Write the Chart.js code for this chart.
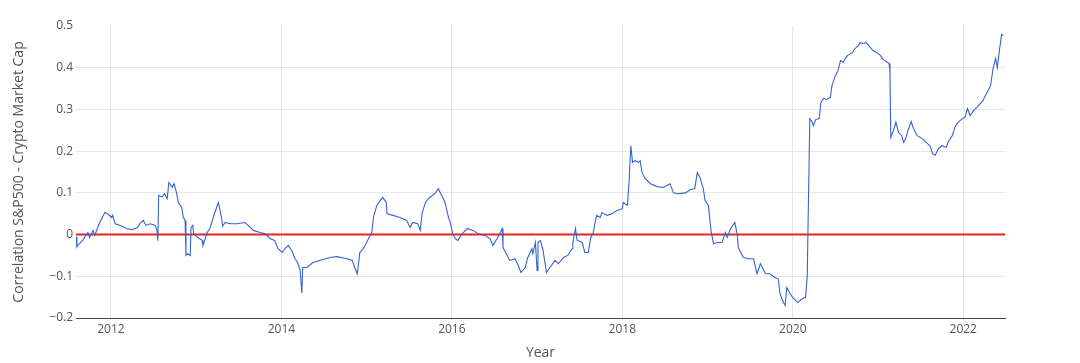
<!DOCTYPE html>
<html>
<head>
<meta charset="utf-8">
<script src="https://cdn.jsdelivr.net/npm/chart.js@4/dist/chart.umd.min.js"></script>
<style>
  html, body { margin: 0; padding: 0; background: #fff; }
  #wrap { width: 1080px; height: 363px; position: relative; }
</style>
</head>
<body>
<div id="wrap"><canvas id="chartCorr"></canvas></div>
<script>
const years = [
  2011.59, 2011.60, 2011.61, 2011.67, 2011.73, 2011.75, 2011.79, 2011.81, 2011.85, 2011.89,
  2011.93, 2011.96, 2012.01, 2012.02, 2012.05, 2012.11, 2012.19, 2012.25, 2012.31, 2012.34,
  2012.38, 2012.41, 2012.46, 2012.52, 2012.54, 2012.55, 2012.56, 2012.60, 2012.63, 2012.66,
  2012.68, 2012.72, 2012.74, 2012.77, 2012.79, 2012.83, 2012.85, 2012.87, 2012.88, 2012.90,
  2012.93, 2012.94, 2012.96, 2012.97, 2013.02, 2013.07, 2013.08, 2013.13, 2013.16, 2013.20,
  2013.24, 2013.26, 2013.28, 2013.30, 2013.31, 2013.34, 2013.40, 2013.48, 2013.57, 2013.61,
  2013.67, 2013.75, 2013.81, 2013.87, 2013.92, 2013.96, 2014.01, 2014.04, 2014.08, 2014.12,
  2014.16, 2014.19, 2014.22, 2014.24, 2014.25, 2014.30, 2014.37, 2014.45, 2014.57, 2014.65,
  2014.77, 2014.83, 2014.86, 2014.89, 2014.90, 2014.92, 2014.96, 2015.00, 2015.04, 2015.06,
  2015.08, 2015.12, 2015.16, 2015.19, 2015.23, 2015.24, 2015.31, 2015.39, 2015.47, 2015.51,
  2015.54, 2015.60, 2015.63, 2015.65, 2015.69, 2015.74, 2015.80, 2015.84, 2015.88, 2015.92,
  2015.96, 2015.98, 2016.01, 2016.04, 2016.07, 2016.12, 2016.18, 2016.25, 2016.31, 2016.39,
  2016.45, 2016.48, 2016.53, 2016.59, 2016.60, 2016.65, 2016.68, 2016.74, 2016.78, 2016.81,
  2016.86, 2016.89, 2016.94, 2016.95, 2016.98, 2017.00, 2017.01, 2017.04, 2017.07, 2017.11,
  2017.15, 2017.21, 2017.25, 2017.31, 2017.36, 2017.41, 2017.42, 2017.45, 2017.47, 2017.53,
  2017.56, 2017.60, 2017.63, 2017.66, 2017.68, 2017.70, 2017.74, 2017.76, 2017.82, 2017.88,
  2017.94, 2018.00, 2018.01, 2018.06, 2018.08, 2018.10, 2018.12, 2018.15, 2018.19, 2018.21,
  2018.23, 2018.27, 2018.33, 2018.41, 2018.48, 2018.56, 2018.60, 2018.65, 2018.74, 2018.80,
  2018.85, 2018.88, 2018.91, 2018.95, 2018.97, 2019.01, 2019.04, 2019.07, 2019.11, 2019.17,
  2019.21, 2019.23, 2019.27, 2019.32, 2019.35, 2019.36, 2019.42, 2019.48, 2019.54, 2019.58,
  2019.62, 2019.68, 2019.73, 2019.79, 2019.83, 2019.85, 2019.89, 2019.91, 2019.93, 2019.97,
  2020.00, 2020.06, 2020.11, 2020.15, 2020.17, 2020.18, 2020.20, 2020.23, 2020.24, 2020.27,
  2020.31, 2020.33, 2020.36, 2020.40, 2020.44, 2020.46, 2020.50, 2020.53, 2020.56, 2020.59,
  2020.64, 2020.70, 2020.73, 2020.77, 2020.79, 2020.83, 2020.86, 2020.90, 2020.94, 2020.99,
  2021.03, 2021.06, 2021.11, 2021.13, 2021.14, 2021.15, 2021.18, 2021.21, 2021.24, 2021.28,
  2021.30, 2021.33, 2021.35, 2021.39, 2021.41, 2021.46, 2021.52, 2021.58, 2021.61, 2021.64,
  2021.67, 2021.71, 2021.75, 2021.80, 2021.82, 2021.87, 2021.91, 2021.94, 2021.99, 2022.02,
  2022.05, 2022.08, 2022.12, 2022.16, 2022.20, 2022.23, 2022.28, 2022.32, 2022.35, 2022.38,
  2022.40, 2022.42, 2022.45, 2022.47
];
const corr = [
  -0.005, -0.030, -0.026, -0.014, 0.005, -0.007, 0.010, -0.002, 0.020, 0.038,
  0.053, 0.050, 0.041, 0.046, 0.026, 0.022, 0.014, 0.012, 0.017, 0.026,
  0.034, 0.022, 0.026, 0.022, 0.010, -0.015, 0.094, 0.090, 0.098, 0.086,
  0.125, 0.113, 0.122, 0.100, 0.077, 0.065, 0.041, 0.034, -0.050, -0.046,
  -0.050, 0.017, 0.022, 0.002, -0.007, -0.014, -0.026, 0.005, 0.014, 0.041,
  0.065, 0.077, 0.058, 0.038, 0.020, 0.029, 0.026, 0.026, 0.029, 0.022,
  0.010, 0.005, 0.002, -0.010, -0.014, -0.034, -0.043, -0.034, -0.026, -0.038,
  -0.058, -0.067, -0.086, -0.140, -0.079, -0.079, -0.067, -0.062, -0.055, -0.053,
  -0.058, -0.062, -0.079, -0.094, -0.079, -0.043, -0.034, -0.019, -0.002, 0.005,
  0.041, 0.070, 0.082, 0.089, 0.077, 0.050, 0.046, 0.041, 0.034, 0.017,
  0.029, 0.026, 0.010, 0.050, 0.077, 0.089, 0.098, 0.110, 0.094, 0.077,
  0.041, 0.029, 0.002, -0.010, -0.014, 0.002, 0.014, 0.010, 0.002, -0.002,
  -0.010, -0.026, -0.010, 0.014, -0.031, -0.050, -0.062, -0.058, -0.074, -0.091,
  -0.079, -0.055, -0.034, -0.046, -0.019, -0.086, -0.019, -0.014, -0.038, -0.091,
  -0.079, -0.062, -0.070, -0.055, -0.050, -0.034, -0.019, 0.014, -0.014, -0.019,
  -0.043, -0.043, -0.007, 0.005, 0.029, 0.046, 0.041, 0.053, 0.046, 0.050,
  0.058, 0.062, 0.077, 0.070, 0.130, 0.213, 0.173, 0.177, 0.173, 0.177,
  0.149, 0.134, 0.122, 0.115, 0.113, 0.122, 0.100, 0.098, 0.100, 0.108,
  0.110, 0.149, 0.137, 0.110, 0.082, 0.070, 0.010, -0.022, -0.019, -0.019,
  0.005, -0.007, 0.014, 0.029, -0.002, -0.031, -0.055, -0.058, -0.058, -0.094,
  -0.070, -0.094, -0.094, -0.103, -0.106, -0.142, -0.163, -0.170, -0.127, -0.142,
  -0.151, -0.163, -0.154, -0.151, -0.098, 0.034, 0.278, 0.269, 0.261, 0.276,
  0.278, 0.317, 0.326, 0.324, 0.329, 0.357, 0.381, 0.393, 0.417, 0.413,
  0.429, 0.436, 0.446, 0.453, 0.460, 0.458, 0.460, 0.451, 0.441, 0.436,
  0.429, 0.420, 0.413, 0.410, 0.389, 0.233, 0.249, 0.269, 0.245, 0.237,
  0.221, 0.233, 0.249, 0.271, 0.257, 0.237, 0.230, 0.218, 0.213, 0.194,
  0.190, 0.206, 0.213, 0.209, 0.221, 0.237, 0.261, 0.269, 0.278, 0.281,
  0.302, 0.285, 0.297, 0.305, 0.314, 0.321, 0.341, 0.357, 0.398, 0.422,
  0.400, 0.434, 0.480, 0.477
];
// zero reference line spans the whole x range
const zeroX = [2011.59, 2022.49];
const zeroY = [0, 0];
const xTicks = [2012, 2014, 2016, 2018, 2020, 2022];
const yTicks = [-0.2, -0.1, 0, 0.1, 0.2, 0.3, 0.4, 0.5];

const FONT = '"Open Sans", "Noto Sans", sans-serif';

const ctx = document.getElementById('chartCorr').getContext('2d');
new Chart(ctx, {
  type: 'line',
  data: {
    datasets: [
      {
        label: 'zero',
        data: zeroX.map((x, i) => ({ x, y: zeroY[i] })),
        borderColor: '#e8231f',
        borderWidth: 2,
        pointRadius: 0,
        order: 2
      },
      {
        label: 'corr',
        data: years.map((x, i) => ({ x, y: corr[i] })),
        borderColor: '#3563d1',
        borderWidth: 1.1,
        pointRadius: 0,
        tension: 0,
        order: 1
      }
    ]
  },
  options: {
    responsive: true,
    maintainAspectRatio: false,
    animation: false,
    layout: { padding: { top: 26, right: 75, bottom: 0, left: 0 } },
    plugins: {
      legend: { display: false },
      tooltip: { enabled: false }
    },
    scales: {
      x: {
        type: 'linear',
        min: zeroX[0],
        max: zeroX[1],
        afterBuildTicks: s => { s.ticks = xTicks.map(v => ({ value: v })); },
        afterFit: s => { s.height = 45; },
        grid: { color: '#e6e6e6', drawTicks: false },
        border: { display: true, color: '#444', width: 1 },
        ticks: {
          padding: 4,
          color: '#555',
          font: { family: FONT, size: 12 },
          callback: v => String(v)
        },
        title: {
          display: true,
          text: 'Year',
          color: '#555',
          font: { family: FONT, size: 14 },
          padding: { top: 0, bottom: 2 }
        }
      },
      y: {
        min: -0.2,
        max: 0.5,
        afterBuildTicks: s => { s.ticks = yTicks.map(v => ({ value: v })); },
        afterFit: s => { s.width = 76; },
        grid: {
          drawTicks: false,
          color: c => (c.tick && (c.tick.value === 0.5 || c.tick.value === -0.2)) ? 'rgba(0,0,0,0)' : '#e6e6e6'
        },
        border: { display: false },
        ticks: {
          padding: 3,
          color: '#555',
          font: { family: FONT, size: 12 },
          callback: v => v === 0 ? '0' : (v < 0 ? '\u2212' : '') + Math.abs(v).toFixed(1)
        },
        title: {
          display: true,
          text: 'Correlation S&P500 - Crypto Market Cap',
          color: '#555',
          font: { family: FONT, size: 14 },
          padding: { top: 11, bottom: 0 }
        }
      }
    }
  }
});
</script>
</body>
</html>
